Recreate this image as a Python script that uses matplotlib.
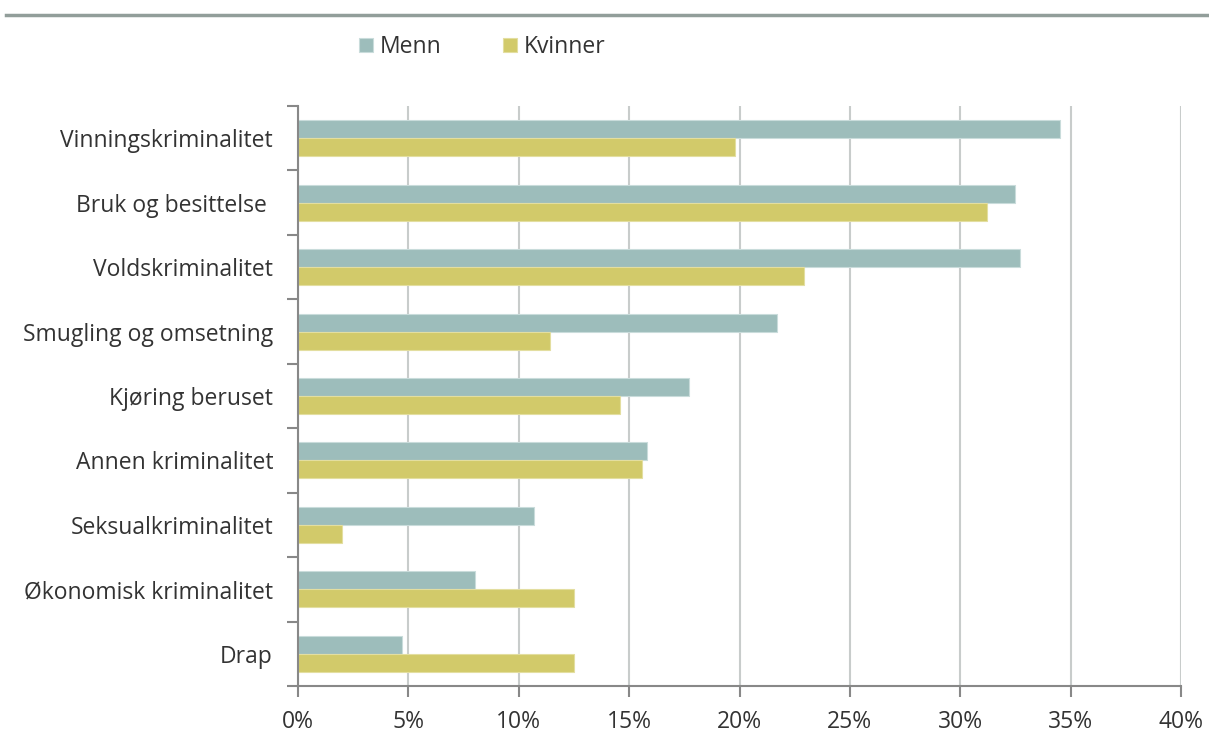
import numpy as np
import matplotlib.pyplot as plt
from matplotlib.lines import Line2D

categories = ["Vinningskriminalitet", "Bruk og besittelse ", "Voldskriminalitet",
              "Smugling og omsetning", "Kjøring beruset", "Annen kriminalitet",
              "Seksualkriminalitet", "Økonomisk kriminalitet", "Drap"]
menn = [34.5, 32.5, 32.7, 21.7, 17.7, 15.8, 10.7, 8.0, 4.7]
kvinner = [19.8, 31.2, 22.9, 11.4, 14.6, 15.6, 2.0, 12.5, 12.5]
x_ticks = [0, 5, 10, 15, 20, 25, 30, 35, 40]

c_menn = "#9dbdbb"
c_kvinner = "#d2ca6a"
txt = "#333333"
plt.rcParams['font.family'] = ['Open Sans', 'DejaVu Sans']

fig = plt.figure(figsize=(12.09, 7.45), dpi=100)
ax = fig.add_axes([298 / 1209, 1 - 686 / 745, 883 / 1209, 580 / 745])

n = len(categories)
y = np.arange(n)
h = 0.28
ax.barh(y - h / 2, menn, height=h, color=c_menn, edgecolor="#c9dcdb", linewidth=0.8, zorder=3, label="Menn")
ax.barh(y + h / 2, kvinner, height=h, color=c_kvinner, edgecolor="#e3dea0", linewidth=0.8, zorder=3, label="Kvinner")

ax.set_xlim(0, 40)
ax.set_ylim(n - 0.5, -0.5)
ax.set_xticks(x_ticks)
ax.set_xticklabels([f"{v}%" for v in x_ticks], fontsize=16.5, color=txt)
ax.set_yticks(y)
ax.set_yticklabels(categories, fontsize=16.5, color=txt)
ax.tick_params(axis='y', length=0, pad=18)
ax.set_yticks(np.arange(n + 1) - 0.5, minor=True)
ax.tick_params(axis='y', which='minor', length=8, width=1.5, color="#888888")
ax.tick_params(axis='x', length=8, width=1.5, color="#888888", pad=9)

ax.grid(axis='x', color="#c8cccb", linewidth=1.5, zorder=0)
for s in ["top", "right"]:
    ax.spines[s].set_visible(False)
for s in ["left", "bottom"]:
    ax.spines[s].set_color("#888888")
    ax.spines[s].set_linewidth(1.5)
    ax.spines[s].set_zorder(4)

fig.legend(loc="center left", bbox_to_anchor=(350 / 1209, 1 - 47 / 745), ncol=2,
           frameon=False, fontsize=16.5, handlelength=0.6, handleheight=0.6,
           handletextpad=0.3, columnspacing=2.7, labelcolor=txt, borderaxespad=0)

fig.add_artist(Line2D([6 / 1209, 1], [1 - 14.5 / 745] * 2, color="#929e9a", linewidth=2.5,
                      transform=fig.transFigure))

fig.savefig("out.png", dpi=100)
